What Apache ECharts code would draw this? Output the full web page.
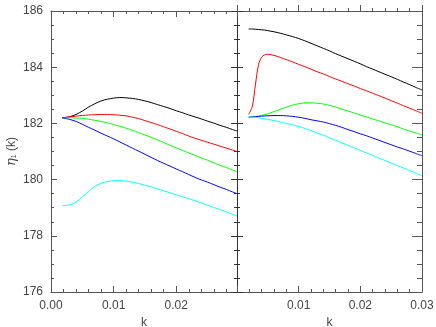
<!DOCTYPE html>
<html>
<head>
<meta charset="utf-8">
<script src="https://cdn.jsdelivr.net/npm/echarts@6/dist/echarts.min.js"></script>
<style>
  html, body { margin: 0; padding: 0; background: #fff; }
  #chart { width: 436px; height: 327px; }
</style>
</head>
<body>
<div id="chart"></div>
<script>
// left panel
const kLeft = [0.0018, 0.003, 0.004, 0.005, 0.006, 0.007, 0.008, 0.009, 0.010, 0.011, 0.012, 0.013, 0.014, 0.015, 0.016, 0.017, 0.018, 0.019, 0.020, 0.021, 0.022, 0.023, 0.024, 0.025, 0.026, 0.027, 0.028, 0.029, 0.0297];
const blackLeft = [182.20, 182.24, 182.32, 182.44, 182.58, 182.70, 182.80, 182.86, 182.90, 182.92, 182.91, 182.89, 182.85, 182.80, 182.74, 182.67, 182.60, 182.53, 182.45, 182.38, 182.30, 182.23, 182.16, 182.08, 182.01, 181.93, 181.86, 181.78, 181.73];
const redLeft = [182.20, 182.23, 182.26, 182.28, 182.30, 182.31, 182.32, 182.32, 182.31, 182.29, 182.27, 182.22, 182.17, 182.10, 182.03, 181.96, 181.88, 181.80, 181.72, 181.64, 181.55, 181.47, 181.40, 181.33, 181.26, 181.19, 181.12, 181.05, 181.00];
const greenLeft = [182.20, 182.20, 182.19, 182.18, 182.15, 182.11, 182.07, 182.02, 181.96, 181.90, 181.83, 181.75, 181.67, 181.59, 181.50, 181.41, 181.32, 181.22, 181.13, 181.04, 180.95, 180.86, 180.77, 180.69, 180.60, 180.51, 180.43, 180.34, 180.28];
const blueLeft = [182.20, 182.14, 182.07, 181.97, 181.86, 181.76, 181.65, 181.55, 181.45, 181.34, 181.23, 181.12, 181.01, 180.90, 180.79, 180.68, 180.58, 180.48, 180.38, 180.28, 180.18, 180.08, 179.99, 179.91, 179.82, 179.73, 179.65, 179.56, 179.50];
const cyanLeft = [179.07, 179.10, 179.20, 179.38, 179.58, 179.75, 179.87, 179.93, 179.96, 179.96, 179.95, 179.91, 179.86, 179.80, 179.74, 179.67, 179.60, 179.53, 179.46, 179.39, 179.32, 179.25, 179.17, 179.09, 179.01, 178.93, 178.85, 178.77, 178.71];

// right panel
const kRight = [0.0019, 0.0025, 0.003, 0.0035, 0.004, 0.0045, 0.005, 0.006, 0.007, 0.008, 0.009, 0.010, 0.011, 0.012, 0.013, 0.014, 0.015, 0.016, 0.017, 0.018, 0.019, 0.020, 0.021, 0.022, 0.023, 0.024, 0.025, 0.026, 0.027, 0.028, 0.029, 0.030];
const blackRight = [185.36, 185.36, 185.35, 185.34, 185.33, 185.32, 185.30, 185.26, 185.21, 185.15, 185.09, 185.02, 184.94, 184.85, 184.76, 184.67, 184.58, 184.48, 184.39, 184.30, 184.21, 184.12, 184.02, 183.93, 183.84, 183.75, 183.66, 183.57, 183.47, 183.38, 183.28, 183.19];
const redRight = [182.32, 182.62, 183.40, 184.10, 184.36, 184.44, 184.46, 184.42, 184.35, 184.27, 184.19, 184.10, 184.02, 183.93, 183.84, 183.76, 183.67, 183.58, 183.50, 183.41, 183.33, 183.24, 183.16, 183.07, 182.99, 182.90, 182.81, 182.72, 182.63, 182.54, 182.45, 182.36];
const greenRight = [182.22, 182.23, 182.24, 182.26, 182.28, 182.31, 182.34, 182.42, 182.50, 182.58, 182.65, 182.70, 182.73, 182.73, 182.72, 182.69, 182.64, 182.58, 182.51, 182.44, 182.37, 182.30, 182.23, 182.16, 182.09, 182.02, 181.95, 181.88, 181.80, 181.73, 181.66, 181.59];
const blueRight = [182.22, 182.23, 182.24, 182.25, 182.26, 182.265, 182.27, 182.28, 182.28, 182.27, 182.25, 182.22, 182.18, 182.13, 182.09, 182.05, 181.99, 181.93, 181.86, 181.78, 181.71, 181.63, 181.56, 181.48, 181.40, 181.32, 181.24, 181.16, 181.09, 181.01, 180.93, 180.85];
const cyanRight = [182.22, 182.22, 182.21, 182.20, 182.18, 182.16, 182.14, 182.10, 182.05, 182.00, 181.95, 181.89, 181.82, 181.74, 181.66, 181.58, 181.49, 181.40, 181.31, 181.22, 181.13, 181.04, 180.95, 180.86, 180.77, 180.68, 180.59, 180.50, 180.41, 180.32, 180.23, 180.14];

const yTicks = [176, 178, 180, 182, 184, 186];
const lineColors = ['#000000', '#ff0000', '#00ff00', '#0000ff', '#00ffff'];

const pairs = (ks, vs) => ks.map((k, i) => [k, vs[i]]);

const axisColor = '#333';
const textStyle = { color: '#444', fontSize: 12, fontFamily: 'Liberation Sans, Arial, sans-serif' };
const kStart = 1e-9;

const yName = {
  name: '{e|η}{s|1}{n| (k)}', nameLocation: 'middle', nameGap: 33, nameRotate: 90,
  nameTextStyle: {
    ...textStyle,
    rich: {
      e: { fontSize: 13, fontStyle: 'italic', color: '#444', fontFamily: 'DejaVu Serif' },
      s: { fontSize: 7, color: '#444', verticalAlign: 'bottom', padding: [6, 0, 0, 0] },
      n: { fontSize: 12, color: '#444', fontFamily: 'Liberation Sans' }
    }
  }
};

const yBase = grid => ({
  type: 'value', gridIndex: grid,
  min: yTicks[0], max: yTicks[yTicks.length - 1], interval: 2,
  splitLine: { show: false }
});

const xBase = (grid, max) => ({
  type: 'value', gridIndex: grid,
  min: kStart, max: max, interval: 0.01,
  splitLine: { show: false }
});

const yAxes = [
  // left panel, left side, with labels
  Object.assign(yBase(0), {
    position: 'left',
    axisLine: { show: true },
    axisTick: { show: true, inside: true, length: 6 },
    minorTick: { show: true, splitNumber: 4 },
    axisLabel: { ...textStyle }
  }, yName),
  // left panel, right side
  Object.assign(yBase(0), {
    position: 'right',
    axisLine: { show: true },
    axisTick: { show: true, inside: true, length: 6, lineStyle: { color: axisColor } },
    minorTick: { show: true, splitNumber: 4, length: 3, lineStyle: { color: axisColor } },
    axisLabel: { show: false }
  }),
  // right panel, left side
  Object.assign(yBase(1), {
    position: 'left',
    axisLine: { show: true, lineStyle: { color: axisColor } },
    axisTick: { show: true, inside: true, length: 6 },
    minorTick: { show: true, splitNumber: 4 },
    axisLabel: { show: false }
  }),
  // right panel, right side
  Object.assign(yBase(1), {
    position: 'right',
    axisLine: { show: true },
    axisTick: { show: true, inside: true, length: 10 },
    minorTick: { show: true, splitNumber: 4, length: 5 },
    axisLabel: { show: false }
  })
];

const xAxes = [
  Object.assign(xBase(0, 0.0297), {
    position: 'bottom',
    axisLine: { show: true },
    axisTick: { show: true, inside: true, length: 6 },
    minorTick: { show: true, splitNumber: 5 },
    axisLabel: { showMaxLabel: false, formatter: v => v.toFixed(2), ...textStyle },
    name: 'k', nameLocation: 'middle', nameGap: 22, nameTextStyle: { ...textStyle }
  }),
  Object.assign(xBase(0, 0.0297), {
    position: 'top',
    axisLine: { show: true },
    axisTick: { show: true, inside: true, length: 6 },
    minorTick: { show: true, splitNumber: 5 },
    axisLabel: { show: false }
  }),
  Object.assign(xBase(1, 0.03), {
    position: 'bottom',
    axisLine: { show: true },
    axisTick: { show: true, inside: true, length: 6 },
    minorTick: { show: true, splitNumber: 5 },
    axisLabel: { showMinLabel: false, formatter: v => v.toFixed(2), ...textStyle },
    name: 'k', nameLocation: 'middle', nameGap: 22, nameTextStyle: { ...textStyle }
  }),
  Object.assign(xBase(1, 0.03), {
    position: 'top',
    axisLine: { show: true },
    axisTick: { show: true, inside: false, length: 6 },
    minorTick: { show: true, splitNumber: 5 },
    axisLabel: { show: false }
  })
];

const chart = echarts.init(document.getElementById('chart'));

const leftSets = [blackLeft, redLeft, greenLeft, blueLeft, cyanLeft];
const rightSets = [blackRight, redRight, greenRight, blueRight, cyanRight];

const series = [];
leftSets.forEach((vals, i) => {
  series.push({
    type: 'line', xAxisIndex: 0, yAxisIndex: 0, data: pairs(kLeft, vals),
    smooth: 0.3, showSymbol: false, lineStyle: { color: lineColors[i], width: 1 }
  });
});
rightSets.forEach((vals, i) => {
  series.push({
    type: 'line', xAxisIndex: 2, yAxisIndex: 2, data: pairs(kRight, vals),
    smooth: 0.3, showSymbol: false, lineStyle: { color: lineColors[i], width: 1 }
  });
});

chart.setOption({
  animation: false,
  grid: [
    { left: 51, right: 199, top: 11, bottom: 35, outerBoundsMode: 'none' },
    { left: 237, right: 14, top: 11, bottom: 35, outerBoundsMode: 'none' }
  ],
  xAxis: xAxes,
  yAxis: yAxes,
  series: series
});
</script>
</body>
</html>
